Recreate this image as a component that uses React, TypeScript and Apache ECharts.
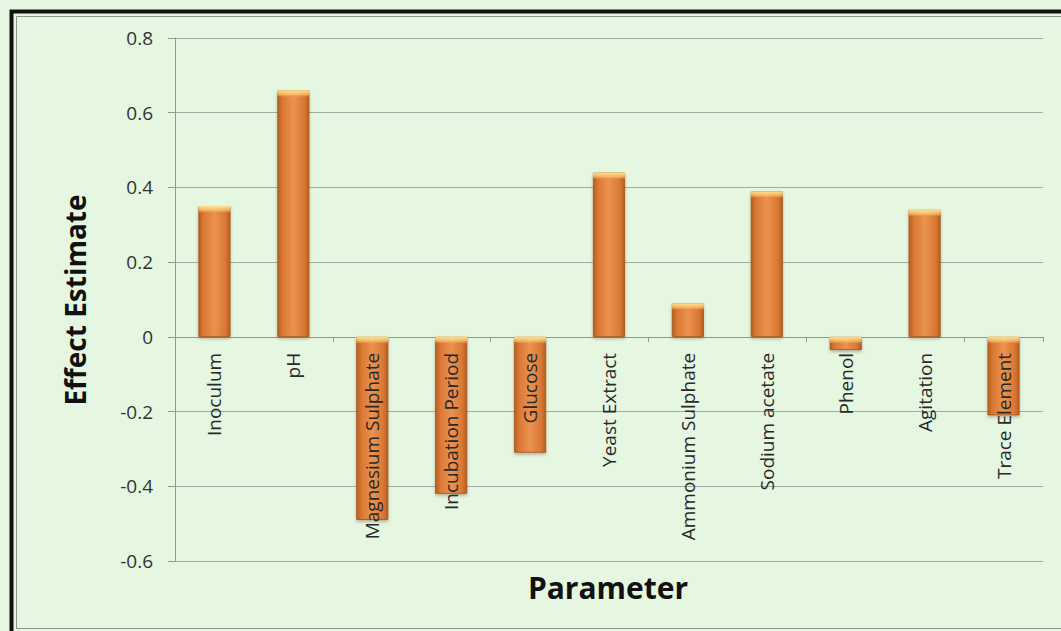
import React, { useEffect, useRef } from "react";
import * as echarts from "echarts";

const categories = [
  "Inoculum",
  "pH",
  "Magnesium Sulphate",
  "Incubation Period",
  "Glucose",
  "Yeast Extract",
  "Ammonium Sulphate",
  "Sodium acetate",
  "Phenol",
  "Agitation",
  "Trace Element",
];

const effects = [0.35, 0.66, -0.49, -0.42, -0.31, 0.44, 0.09, 0.39, -0.035, 0.34, -0.21];

const yTicks = { min: -0.6, max: 0.8, step: 0.2 };

const FONT = "'Open Sans', sans-serif";

const W = 1061;
const H = 631;
const GRID = { left: 175, right: 18, top: 38, bottom: 70 };

export default function App() {
  const ref = useRef<HTMLDivElement>(null);

  useEffect(() => {
    if (!ref.current) return;
    const chart = echarts.init(ref.current, undefined, { renderer: "svg" });

    // Category labels sit just under the zero line, so the label axis is lifted
    // from the bottom of the grid to where y = 0 falls.
    const plotH = H - GRID.top - GRID.bottom;
    const span = yTicks.max - yTicks.min;
    const zeroFromBottom = ((0 - yTicks.min) / span) * plotH;

    const barFill = new echarts.graphic.LinearGradient(0, 0, 1, 0, [
      { offset: 0, color: "#b85d21" },
      { offset: 0.15, color: "#d97834" },
      { offset: 0.5, color: "#ec9250" },
      { offset: 0.85, color: "#d97834" },
      { offset: 1, color: "#b85d21" },
    ]);

    // Glossy light band along the top edge of every bar (about 7px tall).
    const capPx = 7;
    const capData = effects.map((v) => {
      const barPx = (Math.abs(v) / span) * plotH;
      const f = Math.min(0.9, capPx / Math.max(barPx, 1));
      return {
        value: v,
        itemStyle: {
          color: new echarts.graphic.LinearGradient(0, 0, 0, 1, [
            { offset: 0, color: "rgba(255,232,150,0.95)" },
            { offset: f * 0.6, color: "rgba(252,205,120,0.7)" },
            { offset: f, color: "rgba(240,160,80,0)" },
            { offset: 1, color: "rgba(240,160,80,0)" },
          ]),
        },
      };
    });

    const axisGray = "#8f9a8f";

    chart.setOption({
      animation: false,
      backgroundColor: "#e5f6e1",
      grid: { ...GRID, containLabel: false, outerBoundsMode: "none" },
      xAxis: [
        {
          type: "category",
          data: categories,
          axisLine: { onZero: true, lineStyle: { color: axisGray, width: 1 } },
          axisTick: { show: true, length: 5, lineStyle: { color: axisGray } },
          axisLabel: { show: false },
          splitLine: { show: false },
        },
        {
          type: "category",
          data: categories,
          position: "bottom",
          offset: -zeroFromBottom,
          z: 10,
          axisLine: { show: false },
          axisTick: { show: false },
          axisLabel: {
            rotate: 90,
            margin: 16,
            fontSize: 19,
            fontFamily: FONT,
            color: "#2a2a2a",
            interval: 0,
          },
          splitLine: { show: false },
        },
      ],
      yAxis: {
        type: "value",
        min: yTicks.min,
        max: yTicks.max,
        interval: yTicks.step,
        axisLine: { show: true, lineStyle: { color: axisGray, width: 1 } },
        axisTick: { show: true, length: 7, lineStyle: { color: axisGray } },
        axisLabel: {
          margin: 22,
          fontSize: 19,
          fontFamily: FONT,
          color: "#333",
          formatter: (v: number) => String(Math.round(v * 10) / 10),
        },
        splitLine: { show: true, lineStyle: { color: "#a3aca3", width: 1 } },
      },
      series: [
        {
          type: "bar",
          xAxisIndex: 0,
          data: effects,
          barWidth: 32,
          z: 2,
          itemStyle: {
            color: barFill,
            borderColor: "#a65318",
            borderWidth: 0.8,
            shadowColor: "rgba(90,60,30,0.35)",
            shadowBlur: 3,
            shadowOffsetY: 2,
          },
        },
        {
          type: "bar",
          xAxisIndex: 0,
          data: capData,
          barWidth: 32,
          barGap: "-100%",
          z: 3,
          silent: true,
        },
      ],
      graphic: [
        {
          type: "rect",
          shape: { x: 11.5, y: 11.5, width: 1080, height: 640 },
          style: { fill: "none", stroke: "#111", lineWidth: 4 },
          silent: true,
        },
        {
          type: "rect",
          shape: { x: 16.5, y: 16.5, width: 1080, height: 612 },
          style: { fill: "none", stroke: "#8a948a", lineWidth: 1 },
          silent: true,
        },
        {
          type: "text",
          x: 75,
          y: 300,
          rotation: Math.PI / 2,
          style: {
            text: "Effect Estimate",
            font: `bold 28px ${FONT}`,
            fill: "#111",
            align: "center",
            verticalAlign: "middle",
          },
        },
        {
          type: "text",
          x: 608,
          y: 587,
          style: {
            text: "Parameter",
            font: `bold 30px ${FONT}`,
            fill: "#111",
            align: "center",
            verticalAlign: "middle",
          },
        },
      ],
    });

    return () => chart.dispose();
  }, []);

  return (
    <div
      ref={ref}
      style={{ position: "absolute", left: 0, top: 0, width: W, height: H }}
    />
  );
}
